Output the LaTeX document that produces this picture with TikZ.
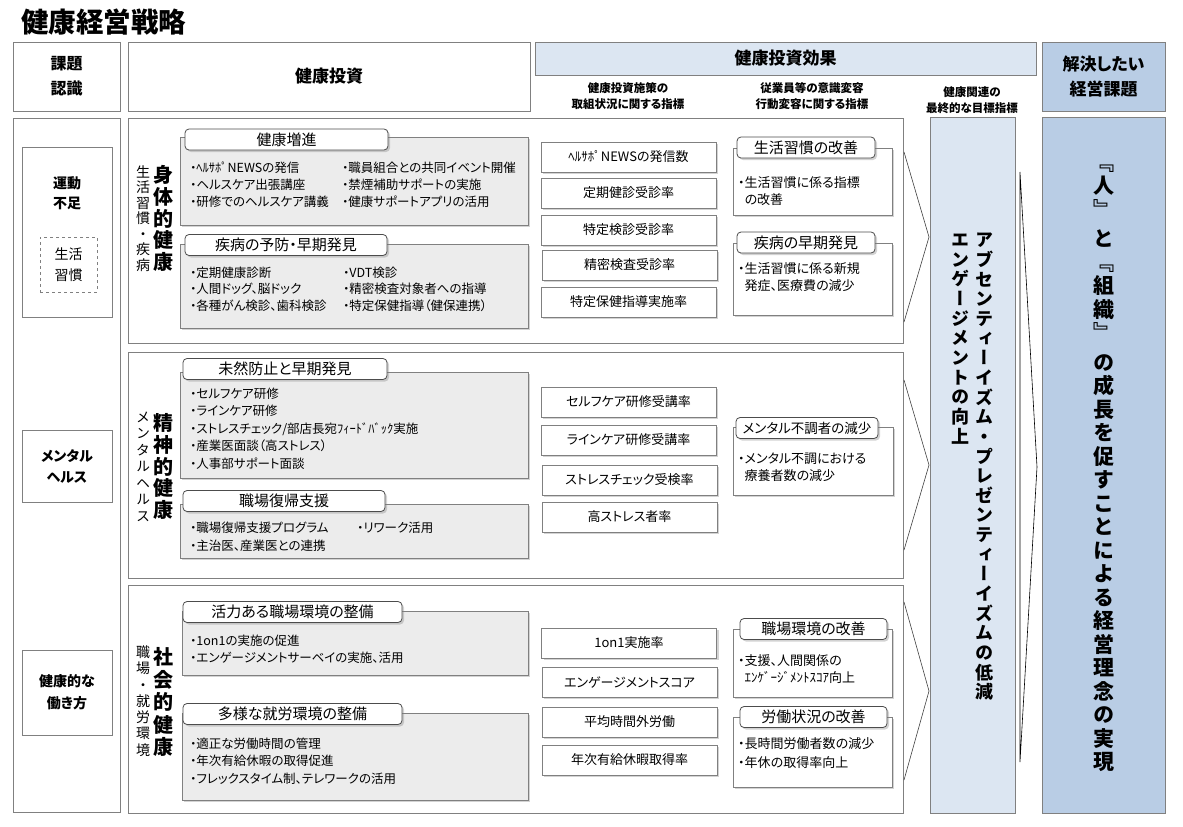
\documentclass[tikz,border=0pt]{standalone}
\usepackage{fontspec}
\setmainfont{Noto Sans CJK JP}[RawFeature={+palt}]
\newfontfamily\vfont{Noto Sans CJK JP}[RawFeature={+vert}]
\usetikzlibrary{fit,shadows}

\definecolor{linegray}{RGB}{128,128,128}
\definecolor{panelgray}{RGB}{236,236,236}
\definecolor{paleblue}{RGB}{220,230,242}
\definecolor{midblue}{RGB}{185,205,229}

% characters stacked top to bottom, | gives a small gap
\ExplSyntaxOn
\NewDocumentCommand\vtext{mm}{
  \vbox{
    \skip_set:Nn \baselineskip {#1}
    \dim_set:Nn \lineskiplimit {-100pt}
    \tl_map_inline:nn {#2}
      {
        \tl_if_eq:nnTF {##1} {|}
          { \kern 6pt }
          { \hbox_to_wd:nn {1em} { \hss \vrule height .88em depth .12em width 0pt ##1 \hss } }
      }
  }
}
\ExplSyntaxOff

\begin{document}
\begin{tikzpicture}[x=1pt,y=-1pt,
  every node/.style={inner sep=0pt},
  frame/.style={draw=linegray, line width=.8pt},
  sdw/.style={drop shadow={shadow xshift=2pt,shadow yshift=-2pt,opacity=.35}},
  gbox/.style={draw=linegray, fill=panelgray, line width=.8pt, sdw},
  tab/.style={draw=black!70, fill=white, rounded corners=4pt, minimum height=21, line width=.8pt, sdw, font=\fontsize{15}{18}\selectfont},
  ind/.style={draw=linegray, fill=white, line width=.8pt, minimum width=175, minimum height=30, sdw, font=\fontsize{13}{16}\selectfont},
  eff/.style={draw=linegray, fill=white, line width=.8pt, sdw},
  items/.style={anchor=north west, align=left, font=\fontsize{12.5}{17}\selectfont},
  efftext/.style={anchor=north west, align=left, font=\fontsize{13}{17}\selectfont},
  hdtext/.style={align=center, font=\bfseries\fontsize{17}{25}\selectfont},
  lctext/.style={align=center, font=\bfseries\fontsize{14}{21}\selectfont},
  subhd/.style={align=center, font=\bfseries\fontsize{11.5}{16}\selectfont},
  vlab/.style={font=\vfont\fontsize{14}{16}\selectfont},
  vbig/.style={font=\vfont\bfseries\fontsize{20}{22}\selectfont},
  chev/.style={draw=black!75, line width=.6pt},
]
\useasboundingbox (0,0) rectangle (1183,827);

\node[anchor=west, font=\bfseries\fontsize{27.5}{30}\selectfont] (title) at (21,22) {健康経営戦略};

% header row
\node[frame, fit={(13,42) (120,111)}] (hdA) {};
\node[hdtext, font=\bfseries\fontsize{16}{25}\selectfont] at (hdA.center) {課題\\認識};
\node[frame, fit={(128,42) (530,111)}] (hdB) {};
\node[hdtext] at (hdB.center) {健康投資};
\node[frame, fill=paleblue, fit={(535,42) (1036,75)}] (hdC) {};
\node[hdtext] at (hdC.center) {健康投資効果};
\node[frame, fill=midblue, fit={(1042,42) (1165,111)}] (hdD) {};
\node[hdtext] at (hdD.center) {解決したい\\経営課題};
\node[subhd] (sub1) at (628,96) {健康投資施策の\\取組状況に関する指標};
\node[subhd] (sub2) at (812,96) {従業員等の意識変容\\行動変容に関する指標};
\node[subhd] (sub3) at (972,100) {健康関連の\\最終的な目標指標};

% left column
\node[frame, fit={(13,118) (120,812)}] (lcol) {};
\node[frame, fit={(22,147) (112,317)}] (pb1) {};
\node[lctext, font=\bfseries\fontsize{14}{20}\selectfont] (pb1t) at (67,193) {運動\\不足};
\node[draw=linegray, dashed, fit={(40,237) (97,292)}] (habit) {};
\node[align=center, font=\fontsize{14}{21}\selectfont] at (habit.center) {生活\\習慣};
\node[frame, fit={(22,430) (112,502)}] (pb2) {};
\node[lctext] at (pb2.center) {メンタル\\ヘルス};
\node[frame, fit={(22,650) (112,735)}] (pb3) {};
\node[lctext, font=\bfseries\fontsize{14}{22}\selectfont] at (pb3.center) {健康的な\\働き方};

% sections
\node[frame, fit={(128,118) (903,343)}] (s1) {};
\node[frame, fit={(128,352) (903,578)}] (s2) {};
\node[frame, fit={(128,585) (903,813)}] (s3) {};

% goal columns
\node[frame, fill=paleblue, fit={(930,117) (1015,813)}] (goal) {};
\node[frame, fill=midblue, fit={(1042,117) (1165,813)}] (aim) {};

\draw[chev] (904,152) -- (929,237) -- (904,322);
\draw[chev] (904,380) -- (929,465) -- (904,550);
\draw[chev] (904,602) -- (929,691) -- (904,780);
\draw[chev, draw=black] (1020,172) -- (1037,467) -- (1020,762) -- cycle;

\node[font=\vfont\bfseries\fontsize{18}{20}\selectfont] (goal1) at (984,466) {\vtext{19.65pt}{アブセンティーイズム・プレゼンティーイズムの低減}};
\node[font=\vfont\bfseries\fontsize{18}{20}\selectfont] (goal2) at (960,338) {\vtext{19.65pt}{エンゲージメントの向上}};
\node[font=\vfont\bfseries\fontsize{21}{23}\selectfont] (aimt) at (1103.5,462) {\vtext{23.5pt}{『人』|と『組織』|の成長を促すことによる経営理念の実現}};

% section 1
\node[vlab] (v1a) at (143,218.5) {\vtext{15.5pt}{生活習慣・疾病}};
\node[vbig] (v1b) at (163,218.5) {\vtext{21.75pt}{身体的健康}};
\node[gbox, fit={(180,137) (528,225)}] (g11) {};
\node[tab, minimum width=203] (t11) at (286.5,139.5) {健康増進};
\node[items] at (190,162) {・ﾍﾙｻﾎﾟNEWSの発信\\・ヘルスケア出張講座\\・研修でのヘルスケア講義};
\node[items] at (342,162) {・職員組合との共同イベント開催\\・禁煙補助サポートの実施\\・健康サポートアプリの活用};
\node[gbox, fit={(180,244) (528,328)}] (g12) {};
\node[tab, minimum width=202] (t12) at (286,245) {疾病の予防・早期発見};
\node[items, font=\fontsize{12.5}{16.5}\selectfont] at (190,266.5) {・定期健康診断\\・人間ドッグ、脳ドック\\・各種がん検診、歯科検診};
\node[items, font=\fontsize{12.5}{16.5}\selectfont] at (343,266.5) {・VDT検診\\・精密検査対象者への指導\\・特定保健指導（健保連携）};

\node[ind] (i11) at (628.5,157) {ﾍﾙｻﾎﾟNEWSの発信数};
\node[ind] (i12) at (628.5,193) {定期健診受診率};
\node[ind] (i13) at (628.5,230) {特定検診受診率};
\node[ind] (i14) at (629.5,265) {精密検査受診率};
\node[ind] (i15) at (628.5,302) {特定保健指導実施率};

\node[eff, fit={(733,148) (892,215)}] (e11) {};
\node[tab, minimum width=138] (t13) at (806,147.5) {生活習慣の改善};
\node[efftext] at (738,176.5) {・生活習慣に係る指標\\\phantom{・}の改善};
\node[eff, fit={(733,243) (892,315)}] (e12) {};
\node[tab, minimum width=138] (t14) at (806,242.5) {疾病の早期発見};
\node[efftext] at (738,262.5) {・生活習慣に係る新規\\\phantom{・}発症、医療費の減少};

% section 2
\node[vlab] (v2a) at (143,466.5) {\vtext{16.5pt}{メンタルヘルス}};
\node[vbig] (v2b) at (163,466.5) {\vtext{21.75pt}{精神的健康}};
\node[gbox, fit={(180,372) (528,478)}] (g21) {};
\node[tab, minimum width=204] (t21) at (285,369) {未然防止と早期発見};
\node[items, font=\fontsize{12.5}{17.5}\selectfont] at (190,387.5) {・セルフケア研修\\・ラインケア研修\\・ストレスチェック/部店長宛ﾌｨｰﾄﾞﾊﾞｯｸ実施\\・産業医面談（高ストレス）\\・人事部サポート面談};
\node[gbox, fit={(180,504) (528,558)}] (g22) {};
\node[tab, minimum width=202] (t22) at (284,501) {職場復帰支援};
\node[items, font=\fontsize{12.5}{18}\selectfont] at (190,521.5) {・職場復帰支援プログラム\\・主治医、産業医との連携};
\node[items] at (357,521.5) {・リワーク活用};

\node[ind] (i21) at (628.5,402) {セルフケア研修受講率};
\node[ind] (i22) at (628.5,440) {ラインケア研修受講率};
\node[ind] (i23) at (629.5,480) {ストレスチェック受検率};
\node[ind] (i24) at (629.5,517) {高ストレス者率};

\node[eff, fit={(733,427) (893,495)}] (e21) {};
\node[tab, minimum width=142, font=\fontsize{13.5}{18}\selectfont] (t23) at (807,428) {メンタル不調者の減少};
\node[efftext] at (738,452.5) {・メンタル不調における\\\phantom{・}療養者数の減少};

% section 3
\node[vlab] (v3a) at (143,701) {\vtext{16.3pt}{職場・就労環境}};
\node[vbig] (v3b) at (163,702) {\vtext{22.5pt}{社会的健康}};
\node[gbox, fit={(182,611) (528,675)}] (g31) {};
\node[tab, minimum width=219] (t31) at (292.5,612) {活力ある職場環境の整備};
\node[items] at (190,634.5) {・1on1の実施の促進\\・エンゲージメントサーベイの実施、活用};
\node[gbox, fit={(182,713) (528,800)}] (g32) {};
\node[tab, minimum width=219] (t32) at (292.5,714) {多様な就労環境の整備};
\node[items, font=\fontsize{12.5}{17.5}\selectfont] at (190,737.5) {・適正な労働時間の管理\\・年次有給休暇の取得促進\\・フレックスタイム制、テレワークの活用};

\node[ind] (i31) at (629,643) {1on1実施率};
\node[ind] (i32) at (629.5,682) {エンゲージメントスコア};
\node[ind] (i33) at (629.5,722) {平均時間外労働};
\node[ind] (i34) at (629.5,760) {年次有給休暇取得率};

\node[eff, fit={(733,629) (892,697)}] (e31) {};
\node[tab, minimum width=147] (t33) at (813.5,629) {職場環境の改善};
\node[efftext] at (738,654.5) {・支援、人間関係の\\\phantom{・}ｴﾝｹﾞｰｼﾞﾒﾝﾄｽｺｱ向上};
\node[eff, fit={(733,717) (892,787)}] (e32) {};
\node[tab, minimum width=147] (t34) at (813.5,717) {労働状況の改善};
\node[efftext, font=\fontsize{13}{19}\selectfont] at (738,737.5) {・長時間労働者数の減少\\・年休の取得率向上};
\end{tikzpicture}
\end{document}
